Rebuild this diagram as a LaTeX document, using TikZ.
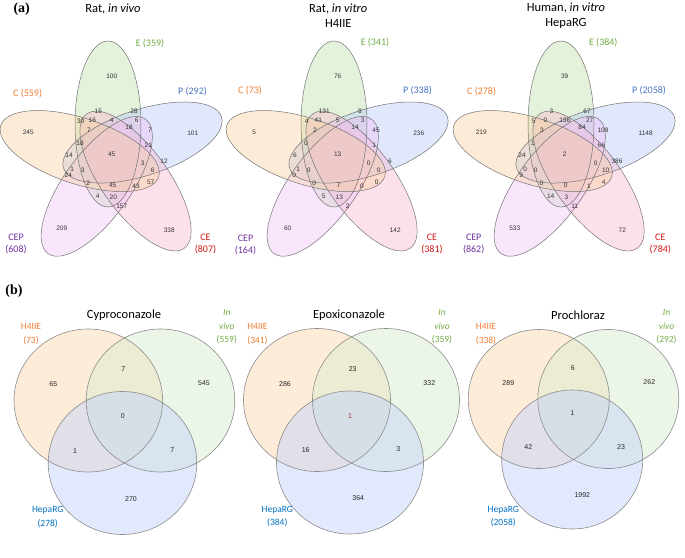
\documentclass[tikz,border=0pt]{standalone}
\usepackage{fontspec}
\setmainfont{Liberation Serif}
\newfontfamily\calib{Carlito}
\newfontfamily\numf{Liberation Sans}
\definecolor{fC}{RGB}{248,205,155}
\definecolor{fE}{RGB}{188,222,168}
\definecolor{fP}{RGB}{180,198,248}
\definecolor{fCE}{RGB}{248,180,205}
\definecolor{fCEP}{RGB}{242,192,248}
\definecolor{tC}{RGB}{237,125,49}
\definecolor{tE}{RGB}{112,173,71}
\definecolor{tP}{RGB}{68,114,196}
\definecolor{tCEP}{RGB}{112,48,160}
\definecolor{tCE}{RGB}{210,20,20}
\definecolor{tH}{RGB}{0,112,192}
\definecolor{bO}{RGB}{251,217,175}
\definecolor{bG}{RGB}{217,237,209}
\definecolor{bB}{RGB}{197,211,249}
\definecolor{dkred}{RGB}{150,40,30}

\newcommand\quintpos{111.7/76.7,28.3/132.3,192.7/133.3,61.7/228.3,169.3/230,98.3/111.7,134/111.7,80.7/121.7,92.3/120,111.7/120,136.7/120,89/130.7,129/127.7,150/130,80/143.3,148.3/145.7,69/155,111.7/154.3,164/161.7,142.7/163.3,72.3/169,82.7/170,152.7/170,68.3/175.7,88.3/183.3,112.7/185.7,136/186.7,150.7/182.3,97.7/196.7,113.3/197.7,121.7/206}

\newcommand\quintvenn[3]{%
\begin{scope}[xshift=#1pt]
 \foreach \ang/\col in {0/fE,-72/fP,-144/fCE,144/fCEP,72/fC}
   \fill[fill=\col, fill opacity=0.4, rotate around={\ang:(112.5,157)}] (108,124) ellipse [x radius=33pt, y radius=83pt];
 \foreach \ang in {0,-72,-144,144,72}
   \draw[outl, rotate around={\ang:(112.5,157)}] (108,124) ellipse [x radius=33pt, y radius=83pt];
 \foreach \xx/\yy [count=\i] in \quintpos {\coordinate (#2p\i) at (\xx,\yy);}
 \foreach \v [count=\i] in {#3} {\node[num] (#2n\i) at (#2p\i) {\v};}
\end{scope}}

% three-set Venn: #1 orange centre, #2 green centre, #3 blue centre, #4 x radius, #5 y radius
\newcommand\trivenn[5]{%
 \fill[bO, fill opacity=0.5] #1 ellipse [x radius=#4pt, y radius=#5pt];
 \fill[bG, fill opacity=0.5] #2 ellipse [x radius=#4pt, y radius=#5pt];
 \fill[bB, fill opacity=0.5] #3 ellipse [x radius=#4pt, y radius=#5pt];
 \draw[boutl] #1 ellipse [x radius=#4pt, y radius=#5pt];
 \draw[boutl] #2 ellipse [x radius=#4pt, y radius=#5pt];
 \draw[boutl] #3 ellipse [x radius=#4pt, y radius=#5pt];}

\begin{document}
\begin{tikzpicture}[x=1pt,y=-1pt,
  num/.style={font=\numf\fontsize{6.5}{7}\selectfont, text=black!80, inner sep=0pt},
  bnum/.style={font=\numf\fontsize{7}{8}\selectfont, text=black!85, inner sep=0pt},
  lab/.style={font=\calib\fontsize{10}{12}\selectfont, inner sep=0pt, align=center},
  blab/.style={font=\calib\fontsize{9.5}{13.5}\selectfont, inner sep=0pt, align=center},
  ttl/.style={font=\calib\fontsize{12.5}{15}\selectfont, inner sep=0pt, align=center},
  panel/.style={font=\bfseries\fontsize{14}{16}\selectfont, inner sep=0pt},
  outl/.style={draw=black!55, line width=0.5pt},
  boutl/.style={draw=black!45, line width=0.6pt}]
\useasboundingbox (0,0) rectangle (685,557);

% ---------------- (a) ----------------
\node[panel] (pa) at (21.7,9) {(a)};
\node[ttl] (t1) at (113,8.5) {Rat, \textit{in vivo}};
\node[ttl] (t2) at (338.3,16) {Rat, \textit{in vitro}\\H4IIE};
\node[ttl] (t3) at (566,16) {Human, \textit{in vitro}\\HepaRG};

\quintvenn{0}{a}{100,245,101,209,338,15,28,30,16,4,6,7,18,7,18,21,14,45,12,3,1,3,6,24,2,45,43,57,4,20,157}
\quintvenn{226}{b}{76,5,236,60,142,131,8,4,41,5,3,2,14,45,0,1,6,13,6,0,1,0,0,0,0,7,0,0,5,13,2}
\quintvenn{453}{c}{39,219,1148,533,72,3,67,5,0,136,27,3,84,108,1,66,24,2,386,0,0,0,10,9,0,0,1,4,14,3,11}

\node[lab, text=tE] (e1) at (150,43.3) {E (359)};
\node[lab, text=tC, anchor=west] (c1) at (13,93.3) {C (559)};
\node[lab, text=tP, anchor=west] (p1) at (178,91.7) {P (292)};
\node[lab, text=tCEP] (cep1) at (16,244) {CEP\\(608)};
\node[lab, text=tCE] (ce1) at (205.5,244) {CE\\(807)};

\node[lab, text=tE] (e2) at (375,42.7) {E (341)};
\node[lab, text=tC, anchor=west] (c2) at (238,91) {C (73)};
\node[lab, text=tP, anchor=west] (p2) at (403,91) {P (338)};
\node[lab, text=tCEP] (cep2) at (245.5,244.5) {CEP\\(164)};
\node[lab, text=tCE] (ce2) at (432,243.7) {CE\\(381)};

\node[lab, text=tE] (e3) at (603.3,42.7) {E (384)};
\node[lab, text=tC, anchor=west] (c3) at (467,91.7) {C (278)};
\node[lab, text=tP, anchor=west] (p3) at (632,91) {P (2058)};
\node[lab, text=tCEP] (cep3) at (473.7,244) {CEP\\(862)};
\node[lab, text=tCE] (ce3) at (660.3,243.7) {CE\\(784)};

% ---------------- (b) ----------------
\node[panel] (pb) at (14,291) {(b)};
\node[ttl] (bt1) at (124,315) {Cyproconazole};
\node[ttl] (bt2) at (349,315) {Epoxiconazole};
\node[ttl] (bt3) at (578,315) {Prochloraz};

\trivenn{(88.3,400.5)}{(160.5,400.5)}{(122.5,463)}{74.3}{71.5}
\trivenn{(317,400)}{(386,400)}{(350,462.5)}{73.5}{71.5}
\trivenn{(538.8,399)}{(608.3,399)}{(572.2,459.5)}{70.5}{69.5}

\node[bnum] (x1a) at (53.3,384.3) {65};
\node[bnum] (x1b) at (123.3,369) {7};
\node[bnum] (x1c) at (204,383.3) {545};
\node[bnum] (x1d) at (122.7,416) {0};
\node[bnum] (x1e) at (75,450.7) {1};
\node[bnum] (x1f) at (172.3,450) {7};
\node[bnum] (x1g) at (131,499.3) {270};

\node[bnum] (x2a) at (285,384.3) {286};
\node[bnum] (x2b) at (352.7,369) {23};
\node[bnum] (x2c) at (429.3,383.3) {332};
\node[bnum, text=dkred] (x2d) at (350,416) {1};
\node[bnum] (x2e) at (305.7,450) {16};
\node[bnum] (x2f) at (398.3,449.3) {3};
\node[bnum] (x2g) at (358.3,498.3) {364};

\node[bnum] (x3a) at (508.3,383.3) {289};
\node[bnum] (x3b) at (572.7,367.7) {6};
\node[bnum] (x3c) at (649.3,382.3) {262};
\node[bnum] (x3d) at (572.3,413.3) {1};
\node[bnum] (x3e) at (528.3,447.3) {42};
\node[bnum] (x3f) at (621,447.3) {23};
\node[bnum] (x3g) at (582.3,495) {1992};

\node[blab, text=tC] (h1) at (31,334) {H4IIE\\(73)};
\node[blab, text=tC] (h2) at (257.5,334) {H4IIE\\(341)};
\node[blab, text=tC] (h3) at (486,334) {H4IIE\\(338)};
\node[blab, text=tE] (v1) at (226.8,327) {\textit{In}\\\textit{vivo}\\(559)};
\node[blab, text=tE] (v2) at (442,327) {\textit{In}\\\textit{vivo}\\(359)};
\node[blab, text=tE] (v3) at (666.5,327) {\textit{In}\\\textit{vivo}\\(292)};
\node[blab, text=tH] (g1) at (47.7,517) {HepaRG\\(278)};
\node[blab, text=tH] (g2) at (277.3,516.7) {HepaRG\\(384)};
\node[blab, text=tH] (g3) at (503.3,516.7) {HepaRG\\(2058)};
\end{tikzpicture}
\end{document}
